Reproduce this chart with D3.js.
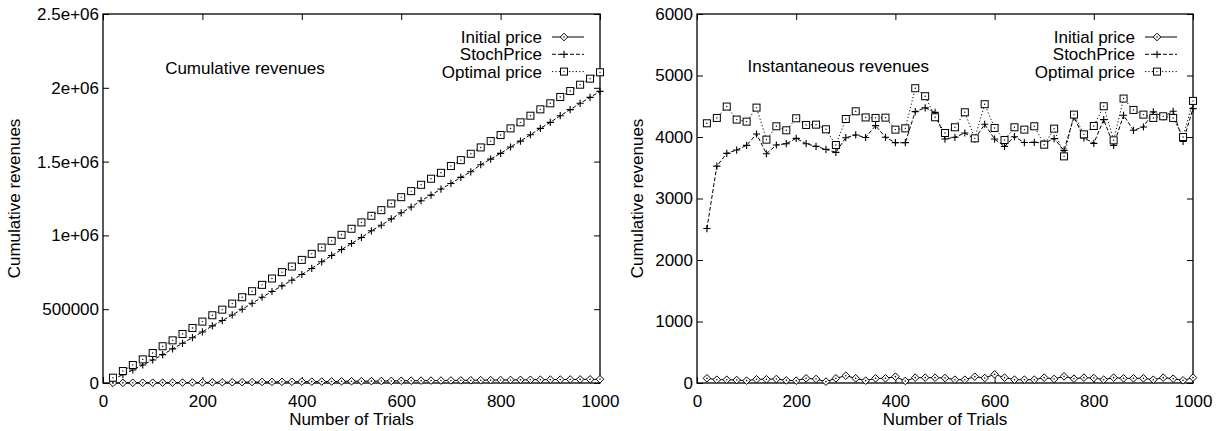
<!DOCTYPE html>
<html><head><meta charset="utf-8">
<script src="https://cdn.jsdelivr.net/npm/d3@7"></script>
<style>
html,body{margin:0;padding:0;background:#fff;}
text{font-family:"Liberation Sans",Arial,Helvetica,sans-serif;font-size:17px;fill:#000;}
</style></head>
<body>
<svg id="chart" width="1223" height="431"></svg>
<script>
// ---------- data ----------
const trials = [20,40,60,80,100,120,140,160,180,200,220,240,260,280,300,320,340,360,380,400,
  420,440,460,480,500,520,540,560,580,600,620,640,660,680,700,720,740,760,780,800,
  820,840,860,880,900,920,940,960,980,1000];

const seriesNames = ["Initial price","StochPrice","Optimal price"];

// Cumulative revenues (left panel)
const cumInitial = [500,1000,1400,1800,2100,2500,2900,3300,3600,3900,4400,4900,5100,5600,6400,7000,7300,7800,8400,9100,
  9300,10000,10600,11200,11800,12200,12600,13300,13900,14900,15500,15900,16300,16700,17300,17800,18600,19100,19700,20300,
  20700,21300,21900,22400,23000,23300,24000,24500,24800,25400];
const cumStoch = [23000,57000,88000,122000,156000,192000,231000,269000,307000,346000,387000,423000,461000,500000,540000,581000,620000,658000,696000,735000,
  776000,821000,864000,904000,945000,986000,1031000,1069000,1112000,1153000,1192000,1235000,1273000,1314000,1352000,1393000,1431000,1479000,1517000,1556000,
  1599000,1639000,1682000,1725000,1766000,1811000,1852000,1895000,1935000,1976000];
const cumOptimal = [36000,81000,122000,160000,203000,249000,289000,332000,373000,416000,459000,497000,538000,581000,622000,665000,708000,751000,789000,834000,
  875000,918000,963000,1004000,1045000,1088000,1133000,1171000,1216000,1259000,1300000,1343000,1384000,1424000,1470000,1510000,1553000,1596000,1639000,1680000,
  1725000,1766000,1811000,1854000,1895000,1938000,1978000,2021000,2062000,2105000];

// Instantaneous revenues (right panel)
const instInitial = [76,54,54,49,38,60,60,65,43,38,76,65,22,76,119,76,38,76,76,103,
  33,87,87,87,81,54,54,103,81,141,87,54,54,54,87,65,108,70,87,81,
  54,87,76,76,76,54,87,70,43,87];
const instStoch = [2511,3527,3734,3788,3864,4049,3728,3870,3891,3978,3891,3848,3799,3750,3989,4033,3992,4185,3995,3908,
  3908,4413,4473,4400,3967,3995,4065,3967,4207,3967,3848,4005,3910,3913,3902,3973,3783,4326,3984,3897,
  4283,3864,4353,4109,4163,4408,4326,4418,3929,4462];
const instOptimal = [4223,4310,4495,4283,4250,4478,3957,4174,4109,4304,4196,4201,4125,3870,4293,4418,4318,4310,4315,4120,
  4141,4793,4663,4321,4065,4158,4402,3978,4533,4147,3951,4158,4120,4174,3875,4136,3685,4364,4043,4179,
  4500,3946,4625,4440,4364,4310,4337,4310,4000,4587];

const xTicks = [0,200,400,600,800,1000];
const xTickLabels = ["0","200","400","600","800","1000"];
const yTicksLeft = [0,500000,1000000,1500000,2000000,2500000];
const yTickLabelsLeft = ["0","500000","1e+06","1.5e+06","2e+06","2.5e+06"];
const yTicksRight = [0,1000,2000,3000,4000,5000,6000];
const yTickLabelsRight = ["0","1000","2000","3000","4000","5000","6000"];

const xTitle = "Number of Trials";
const yTitle = "Cumulative revenues";

// ---------- drawing ----------
const svg = d3.select("#chart");

const styles = [
  {dash:null, marker:"diamond"},
  {dash:"4,2", marker:"plus"},
  {dash:"1.2,2.2", marker:"square"}
];

function drawPanel(cfg){
  const g = svg.append("g");
  const x = d3.scaleLinear().domain([0,1000]).range([cfg.left,cfg.right]);
  const y = d3.scaleLinear().domain(cfg.yDomain).range([cfg.bottom,cfg.top]);
  const tl = 6;

  const xa = g.append("g").attr("transform",`translate(0,${cfg.bottom})`)
    .call(d3.axisBottom(x).tickValues(xTicks).tickSizeInner(-tl).tickSizeOuter(0)
      .tickFormat((d,i)=>xTickLabels[i]).tickPadding(11.5));
  const xt = g.append("g").attr("transform",`translate(0,${cfg.top})`)
    .call(d3.axisTop(x).tickValues(xTicks).tickSizeInner(-tl).tickSizeOuter(0).tickFormat(""));
  const ya = g.append("g").attr("transform",`translate(${cfg.left},0)`)
    .call(d3.axisLeft(y).tickValues(cfg.yTicks).tickSizeInner(-tl).tickSizeOuter(0)
      .tickFormat((d,i)=>cfg.yLabels[i]).tickPadding(4));
  const yr = g.append("g").attr("transform",`translate(${cfg.right},0)`)
    .call(d3.axisRight(y).tickValues(cfg.yTicks).tickSizeInner(-tl).tickSizeOuter(0).tickFormat(""));
  [xa,xt,ya,yr].forEach(a=>{
    a.select(".domain").remove();
    a.selectAll("line").attr("stroke","#000").attr("stroke-width",1);
    a.selectAll("text").attr("font-size",null).attr("font-family",null).attr("fill","#000");
  });

  g.append("rect").attr("x",cfg.left).attr("y",cfg.top)
    .attr("width",cfg.right-cfg.left).attr("height",cfg.bottom-cfg.top)
    .attr("fill","none").attr("stroke","#000").attr("stroke-width",1.3);

  cfg.series.forEach((vals,si)=>{
    const st = styles[si];
    const line = d3.line().x((d,i)=>x(trials[i])).y(d=>y(d));
    g.append("path").datum(vals).attr("d",line).attr("fill","none")
      .attr("stroke","#000").attr("stroke-width",1)
      .attr("stroke-dasharray",st.dash);
    const pts = g.append("g").selectAll("g").data(vals).join("g")
      .attr("transform",(d,i)=>`translate(${x(trials[i])},${y(d)})`);
    drawMarker(pts, st.marker);
  });

  g.append("text").attr("x",x(cfg.labelX)).attr("y",y(cfg.labelY)).attr("dy","0.35em")
    .text(cfg.label);

  seriesNames.forEach((name,i)=>{
    const ly = cfg.top + 23 + i*17.3;
    g.append("text").attr("x",cfg.right-58).attr("y",ly).attr("dy","0.35em")
      .attr("text-anchor","end").text(name);
    g.append("line").attr("x1",cfg.right-48).attr("x2",cfg.right-16)
      .attr("y1",ly).attr("y2",ly).attr("stroke","#000").attr("stroke-width",1)
      .attr("stroke-dasharray",styles[i].dash);
    const m = g.append("g").attr("transform",`translate(${cfg.right-36},${ly})`);
    drawMarker(m, styles[i].marker);
  });

  g.append("text").attr("x",(cfg.left+cfg.right)/2).attr("y",425)
    .attr("text-anchor","middle").text(xTitle);
  g.append("text").attr("transform",`translate(${cfg.yTitleX},${(cfg.top+cfg.bottom)/2}) rotate(-90)`)
    .attr("text-anchor","middle").attr("dy","0.35em").text(yTitle);
}

function drawMarker(sel, type){
  if(type==="diamond"){
    sel.append("path").attr("d","M0,-3.8L3.8,0L0,3.8L-3.8,0Z")
      .attr("fill","#fff").attr("stroke","#000").attr("stroke-width",1);
    sel.append("circle").attr("r",0.8).attr("fill","#000");
  } else if(type==="plus"){
    sel.append("path").attr("d","M-3.6,0H3.6M0,-3.6V3.6")
      .attr("stroke","#000").attr("stroke-width",1.1).attr("fill","none");
  } else {
    sel.append("rect").attr("x",-3.5).attr("y",-3.5).attr("width",7).attr("height",7)
      .attr("fill","#fff").attr("stroke","#000").attr("stroke-width",1);
    sel.append("circle").attr("r",0.7).attr("fill","#000");
  }
}

drawPanel({left:103,right:600,top:14,bottom:383,yDomain:[0,2500000],
  yTicks:yTicksLeft,yLabels:yTickLabelsLeft,
  series:[cumInitial,cumStoch,cumOptimal],
  label:"Cumulative revenues",labelX:125,labelY:2137000,yTitleX:14});

drawPanel({left:697,right:1193,top:14,bottom:383,yDomain:[0,6000],
  yTicks:yTicksRight,yLabels:yTickLabelsRight,
  series:[instInitial,instStoch,instOptimal],
  label:"Instantaneous revenues",labelX:102,labelY:5150,yTitleX:637});
</script>
</body></html>
